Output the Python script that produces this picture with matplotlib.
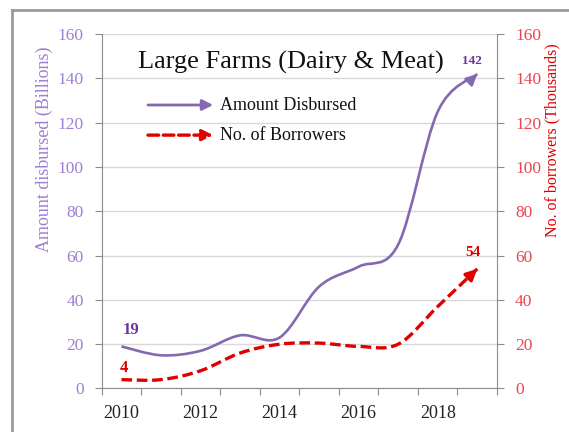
import numpy as np
import matplotlib
matplotlib.use("Agg")
import matplotlib.pyplot as plt
from matplotlib.path import Path
from matplotlib.patches import PathPatch
from matplotlib.lines import Line2D

plt.rcParams["font.family"] = ["Liberation Serif", "DejaVu Serif"]

years = [2010, 2011, 2012, 2013, 2014, 2015, 2016, 2017, 2018, 2019]
amount = [19, 15, 17, 24, 23, 46, 55, 65, 125, 142]      # billions
borrowers = [4, 4, 8, 16, 20, 20.5, 19, 20, 37, 54]      # thousands
year_labels = ["2010", "2012", "2014", "2016", "2018"]

PURPLE = "#8468b0"
PURPLE_TXT = "#7030a0"
PURPLE_TICK = "#a07ed4"
RED = "#e00000"
RED_TICK = "#e8474f"
GRID = "#d9d9d9"
SPINE = "#8c8c8c"


def smooth_path(xs, ys):
    # cubic bezier through every point, like a spreadsheet "smoothed line"
    pts = np.column_stack([xs, ys]).astype(float)
    n = len(pts)
    verts = [pts[0]]
    codes = [Path.MOVETO]
    for i in range(n - 1):
        p0 = pts[max(i - 1, 0)]
        p1 = pts[i]
        p2 = pts[i + 1]
        p3 = pts[min(i + 2, n - 1)]
        c1 = p1 + (p2 - p0) / 6
        c2 = p2 - (p3 - p1) / 6
        verts += [c1, c2, p2]
        codes += [Path.CURVE4] * 3
    return Path(verts, codes), verts[-2]


def draw_series(ax, xs, ys, color, lw, ls):
    path, last_ctrl = smooth_path(xs, ys)
    ax.add_patch(PathPatch(path, facecolor="none", edgecolor=color, lw=lw,
                           linestyle=ls, capstyle="butt", zorder=3))
    ax.annotate("", xy=(xs[-1], ys[-1]), xytext=tuple(last_ctrl),
                arrowprops=dict(arrowstyle="-|>", color=color, lw=lw,
                                mutation_scale=16, shrinkA=0, shrinkB=0),
                zorder=4)


fig = plt.figure(figsize=(5.69, 4.32), dpi=100)
fig.patch.set_facecolor("white")

# frame along the top and left edges
bx, by = 12 / 569, 1 - 10 / 432
fig.add_artist(Line2D([bx, 1.0], [by, by], transform=fig.transFigure,
                      color="#9a9a9a", lw=2))
fig.add_artist(Line2D([bx, bx], [0.0, by], transform=fig.transFigure,
                      color="#9a9a9a", lw=2))

ax = fig.add_axes([0.1787, 0.1007, 0.6948, 0.8203])
ax2 = ax.twinx()

x = np.arange(len(years))
for a in (ax, ax2):
    a.set_xlim(-0.5, len(years) - 0.5)
    a.set_ylim(0, 160)
    a.set_yticks(np.arange(0, 161, 20))
    for s in a.spines.values():
        s.set_color(SPINE)
    a.spines["top"].set_visible(False)

ax.spines["right"].set_visible(False)
ax2.spines["left"].set_visible(False)
ax2.spines["bottom"].set_visible(False)

ax.yaxis.grid(True, color=GRID, lw=1)
ax.set_axisbelow(True)

# category axis: ticks between years, labels on every second year
ax.set_xticks(np.arange(-0.5, len(years), 1))
ax.set_xticklabels([])
ax.set_xticks(x[::2], minor=True)
ax.set_xticklabels(year_labels, minor=True, fontsize=13, color="#222222")
ax.tick_params(axis="x", which="major", length=5, color=SPINE, direction="out")
ax.tick_params(axis="x", which="minor", length=0, pad=12)

ax.tick_params(axis="y", length=5, color=SPINE, labelcolor=PURPLE_TICK,
               labelsize=12.5, pad=8)
ax2.tick_params(axis="y", length=5, color=SPINE, labelcolor=RED_TICK,
                labelsize=12.5, pad=8)

draw_series(ax, x, amount, PURPLE, 1.9, "-")
draw_series(ax2, x, borrowers, RED, 2.4, (0, (3.2, 1.4)))

# end-point values
ax.annotate(f"{amount[0]}", (x[0], amount[0]), xytext=(7, 12),
            textcoords="offset points", ha="center", va="center",
            fontsize=12, fontweight="bold", color=PURPLE_TXT)
ax.annotate(f"{amount[-1]}", (x[-1], amount[-1]), xytext=(-4, 9),
            textcoords="offset points", ha="center", va="center",
            fontsize=9.5, fontweight="bold", color=PURPLE_TXT)
ax2.annotate(f"{borrowers[0]}", (x[0], borrowers[0]), xytext=(2, 8.5),
             textcoords="offset points", ha="center", va="center",
             fontsize=12, fontweight="bold", color=RED)
ax2.annotate(f"{borrowers[-1]}", (x[-1], borrowers[-1]), xytext=(-3, 12),
             textcoords="offset points", ha="center", va="center",
             fontsize=11, fontweight="bold", color=RED)

# title and hand-made legend with arrows
ax2.text(0.479, 0.921, "Large Farms (Dairy & Meat)", transform=ax.transAxes,
         ha="center", va="center", fontsize=19, color="#111111")
ax2.annotate("", xy=(0.282, 0.80), xytext=(0.117, 0.80), xycoords="axes fraction",
             arrowprops=dict(arrowstyle="-|>", color=PURPLE, lw=2,
                             mutation_scale=16, shrinkA=0, shrinkB=0))
ax2.text(0.30, 0.80, "Amount Disbursed", transform=ax.transAxes,
         ha="left", va="center", fontsize=13, color="#111111")
ax2.annotate("", xy=(0.282, 0.715), xytext=(0.117, 0.715), xycoords="axes fraction",
             arrowprops=dict(arrowstyle="-|>", color=RED, lw=2.4,
                             linestyle=(0, (3.2, 1.4)),
                             mutation_scale=16, shrinkA=0, shrinkB=0))
ax2.text(0.30, 0.715, "No. of Borrowers", transform=ax.transAxes,
         ha="left", va="center", fontsize=13, color="#111111")

ax.text(-0.146, 0.676, "Amount disbursed (Billions)", transform=ax.transAxes,
        rotation=90, ha="center", va="center", fontsize=13, color=PURPLE_TICK)
ax2.text(1.139, 0.701, "No. of borrowers (Thousands)", transform=ax.transAxes,
         rotation=90, ha="center", va="center", fontsize=11.5, color=RED)

fig.savefig("out.png", dpi=100)
